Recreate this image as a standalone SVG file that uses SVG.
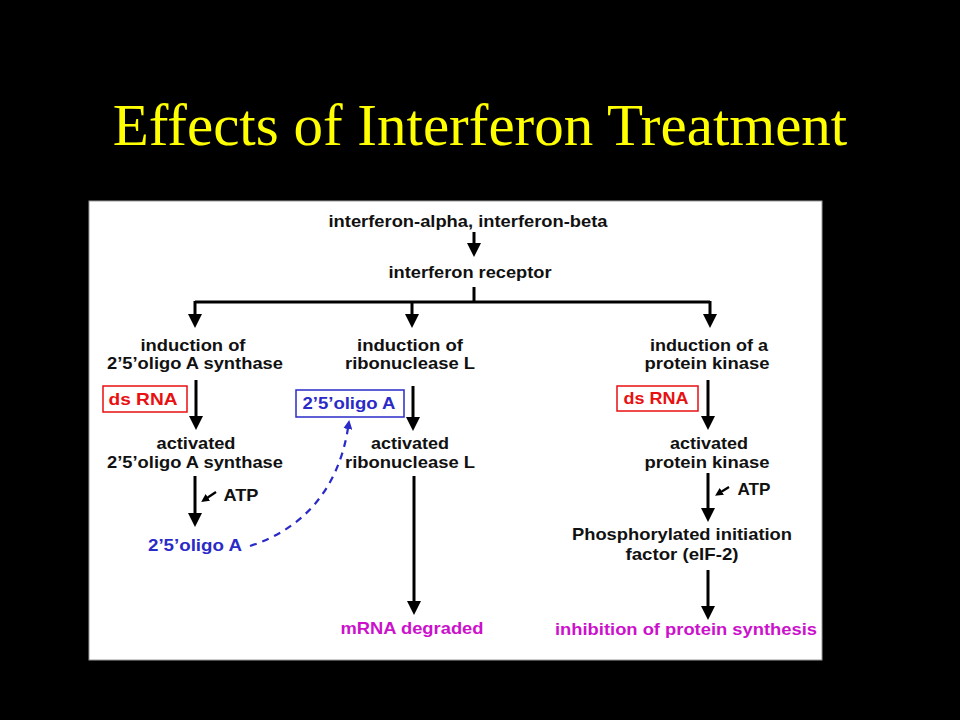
<svg xmlns="http://www.w3.org/2000/svg" width="960" height="720" viewBox="0 0 960 720">
<defs>
<style>
.t{font-family:"Liberation Sans",Arial,sans-serif;font-weight:bold;font-size:16.5px;fill:#111;text-anchor:middle}
.red{fill:#e81010}
.blue{fill:#2a2ac8}
.mag{fill:#cc11cc}
.ln{stroke:#000;stroke-width:3;fill:none}
.sm{stroke:#000;stroke-width:2.2;fill:none}
</style>
<marker id="ah" markerUnits="userSpaceOnUse" viewBox="0 0 14 14" markerWidth="14" markerHeight="14" refX="1" refY="7" orient="auto"><path d="M0,0 L14,7 L0,14 z" fill="#000"/></marker>
<marker id="as" markerUnits="userSpaceOnUse" viewBox="0 0 8 8" markerWidth="8" markerHeight="8" refX="1" refY="4" orient="auto"><path d="M0,0 L8,4 L0,8 z" fill="#000"/></marker>
<marker id="ab" markerUnits="userSpaceOnUse" viewBox="0 0 9 9" markerWidth="9" markerHeight="9" refX="1" refY="4.5" orient="auto"><path d="M0,0 L9,4.5 L0,9 z" fill="#2a2ac8"/></marker>
</defs>
<rect width="960" height="720" fill="#000"/>
<text x="480" y="145" font-family="Liberation Serif,'Times New Roman',serif" font-size="59" fill="#ffff00" text-anchor="middle">Effects of Interferon Treatment</text>
<rect x="89" y="201" width="733" height="459" fill="#fff" stroke="#999" stroke-width="1"/>

<g id="connectors">
<line class="ln" x1="474" y1="232" x2="474" y2="244" marker-end="url(#ah)"/>
<polyline class="ln" points="474,287 474,302"/>
<line class="ln" x1="195" y1="302" x2="710" y2="302"/>
<line class="ln" x1="195" y1="301" x2="195" y2="315" marker-end="url(#ah)"/>
<line class="ln" x1="412" y1="301" x2="412" y2="315" marker-end="url(#ah)"/>
<line class="ln" x1="710" y1="301" x2="710" y2="315" marker-end="url(#ah)"/>
<line class="ln" x1="196" y1="380" x2="196" y2="417" marker-end="url(#ah)"/>
<line class="ln" x1="413" y1="386" x2="413" y2="418" marker-end="url(#ah)"/>
<line class="ln" x1="708" y1="380" x2="708" y2="417" marker-end="url(#ah)"/>
<line class="ln" x1="195" y1="476" x2="195" y2="514" marker-end="url(#ah)"/>
<line class="sm" x1="216" y1="492" x2="207" y2="498" marker-end="url(#as)"/>
<line class="ln" x1="414" y1="476" x2="414" y2="602" marker-end="url(#ah)"/>
<line class="ln" x1="708" y1="473" x2="708" y2="509" marker-end="url(#ah)"/>
<line class="sm" x1="729" y1="487" x2="721" y2="492" marker-end="url(#as)"/>
<line class="ln" x1="708" y1="570" x2="708" y2="607" marker-end="url(#ah)"/>
<path d="M250,546 C300,530 338,492 348,428" stroke="#2a2ac8" stroke-width="2.2" fill="none" stroke-dasharray="7,6" marker-end="url(#ab)"/>
</g>

<g id="n-ifn"><text class="t" x="468" y="227" textLength="279" lengthAdjust="spacingAndGlyphs">interferon-alpha, interferon-beta</text></g>
<g id="n-receptor"><text class="t" x="470" y="278" textLength="163" lengthAdjust="spacingAndGlyphs">interferon receptor</text></g>

<g id="n-ind-oas"><text class="t" x="193" y="351" textLength="105" lengthAdjust="spacingAndGlyphs">induction of</text><text class="t" x="195" y="369" textLength="176" lengthAdjust="spacingAndGlyphs">2’5’oligo A synthase</text></g>
<g id="n-ind-rnl"><text class="t" x="410" y="351" textLength="106" lengthAdjust="spacingAndGlyphs">induction of</text><text class="t" x="410" y="369" textLength="130" lengthAdjust="spacingAndGlyphs">ribonuclease L</text></g>
<g id="n-ind-pk"><text class="t" x="709" y="351" textLength="118" lengthAdjust="spacingAndGlyphs">induction of a</text><text class="t" x="707" y="369" textLength="125" lengthAdjust="spacingAndGlyphs">protein kinase</text></g>

<g id="n-dsrna1"><rect x="103" y="386" width="84" height="26" fill="#fff" stroke="#e81010" stroke-width="1.5"/><text class="t red" x="143" y="405" textLength="69" lengthAdjust="spacingAndGlyphs">ds RNA</text></g>
<g id="n-oligo-box"><rect x="296" y="390" width="108" height="27" fill="#fff" stroke="#2a2ac8" stroke-width="1.5"/><text class="t blue" x="349" y="409" textLength="93" lengthAdjust="spacingAndGlyphs">2’5’oligo A</text></g>
<g id="n-dsrna2"><rect x="617" y="386" width="81" height="25" fill="#fff" stroke="#e81010" stroke-width="1.5"/><text class="t red" x="656" y="404" textLength="65" lengthAdjust="spacingAndGlyphs">ds RNA</text></g>

<g id="n-act-oas"><text class="t" x="196" y="449" textLength="79" lengthAdjust="spacingAndGlyphs">activated</text><text class="t" x="195" y="468" textLength="176" lengthAdjust="spacingAndGlyphs">2’5’oligo A synthase</text></g>
<g id="n-act-rnl"><text class="t" x="410" y="449" textLength="78" lengthAdjust="spacingAndGlyphs">activated</text><text class="t" x="410" y="468" textLength="130" lengthAdjust="spacingAndGlyphs">ribonuclease L</text></g>
<g id="n-act-pk"><text class="t" x="709" y="449" textLength="78" lengthAdjust="spacingAndGlyphs">activated</text><text class="t" x="707" y="468" textLength="125" lengthAdjust="spacingAndGlyphs">protein kinase</text></g>

<g id="n-atp1"><text class="t" x="241" y="501" textLength="35" lengthAdjust="spacingAndGlyphs">ATP</text></g>
<g id="n-atp2"><text class="t" x="754" y="495" textLength="33" lengthAdjust="spacingAndGlyphs">ATP</text></g>
<g id="n-oligo"><text class="t blue" x="195" y="551" textLength="94" lengthAdjust="spacingAndGlyphs">2’5’oligo A</text></g>
<g id="n-eif2"><text class="t" x="682" y="540" textLength="220" lengthAdjust="spacingAndGlyphs">Phosphorylated initiation</text><text class="t" x="682" y="560" textLength="113" lengthAdjust="spacingAndGlyphs">factor (eIF-2)</text></g>
<g id="n-mrna"><text class="t mag" x="412" y="634" textLength="143" lengthAdjust="spacingAndGlyphs">mRNA degraded</text></g>
<g id="n-inhib"><text class="t mag" x="686" y="635" textLength="262" lengthAdjust="spacingAndGlyphs">inhibition of protein synthesis</text></g>
</svg>
